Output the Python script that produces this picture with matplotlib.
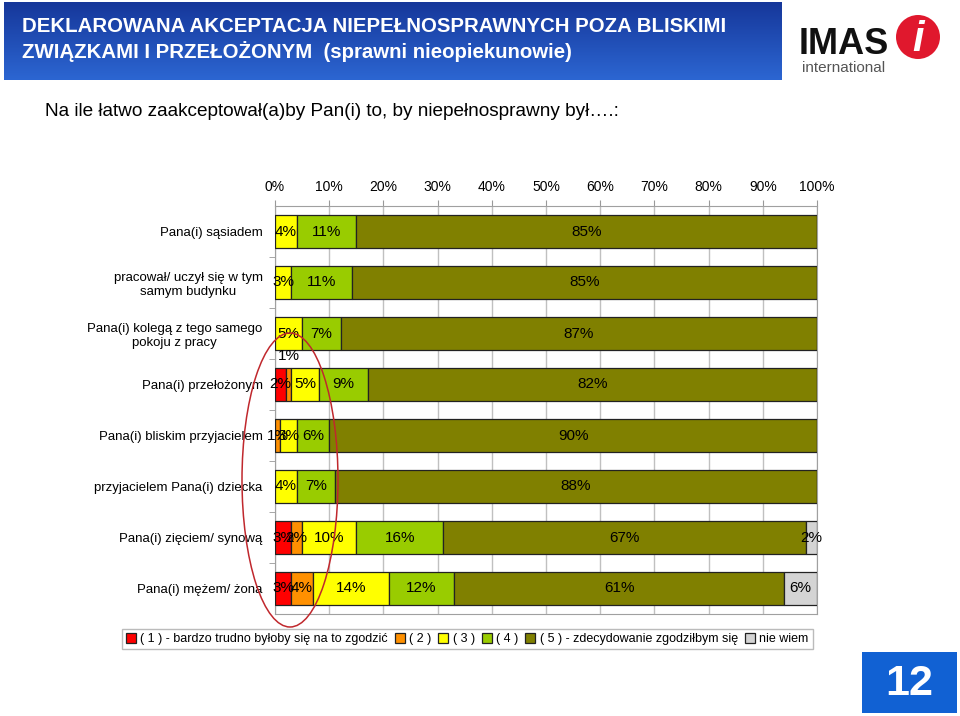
import numpy as np
import matplotlib
matplotlib.use('Agg')
import matplotlib.pyplot as plt
from matplotlib.patches import Ellipse, Rectangle
from matplotlib.colors import LinearSegmentedColormap

plt.rcParams['font.family'] = ['Liberation Sans', 'DejaVu Sans']

# data (percent of answers)
categories = [
    'Pana(i) sąsiadem',
    'pracował/ uczył się w tym\nsamym budynku',
    'Pana(i) kolegą z tego samego\npokoju z pracy',
    'Pana(i) przełożonym',
    'Pana(i) bliskim przyjacielem',
    'przyjacielem Pana(i) dziecka',
    'Pana(i) zięciem/ synową',
    'Pana(i) mężem/ żona',
]
ans1 = [0, 0, 0, 2, 0, 0, 3, 3]
ans2 = [0, 0, 0, 1, 1, 0, 2, 4]
ans3 = [4, 3, 5, 5, 3, 4, 10, 14]
ans4 = [11, 11, 7, 9, 6, 7, 16, 12]
ans5 = [85, 85, 87, 82, 90, 88, 67, 61]
ans_dk = [0, 0, 0, 0, 0, 0, 2, 6]

legend_labels = ['( 1 ) - bardzo trudno byłoby się na to zgodzić', '( 2 )', '( 3 )', '( 4 )',
                 '( 5 ) - zdecydowanie zgodziłbym się', 'nie wiem']
colors = ['#FF0000', '#FF9000', '#FFFF00', '#99CC00', '#808000', '#D4D4D4']

series = np.array([ans1, ans2, ans3, ans4, ans5, ans_dk], dtype=float)
totals = series.sum(axis=0)
shares = series / totals * 100   # 100% stacked, like the original

fig = plt.figure(figsize=(9.6, 7.16), dpi=100)

# header band
hax = fig.add_axes([4/960, 1 - 80/716, 778/960, 78/716])
grad = np.linspace(0, 1, 100).reshape(-1, 1)
cmap = LinearSegmentedColormap.from_list('hdr', ['#16379A', '#2C66D2'])
hax.imshow(grad, aspect='auto', cmap=cmap, extent=[0, 1, 0, 1])
hax.axis('off')
fig.text(22/960, 1 - 27/716, 'DEKLAROWANA AKCEPTACJA NIEPEŁNOSPRAWNYCH POZA BLISKIMI',
         weight='bold', size=14.7, color='white', va='center')
fig.text(22/960, 1 - 52/716, 'ZWIĄZKAMI I PRZEŁOŻONYM  (sprawni nieopiekunowie)',
         weight='bold', size=14.7, color='white', va='center')

# logo
fig.text(799/960, 1 - 45/716, 'IMAS', weight='bold', size=26, color='#111111', va='center')
fig.text(802/960, 1 - 68/716, 'international', size=11, color='#555555', va='center')
fig.add_artist(Ellipse((918/960, 1 - 37/716), 44/960, 44/716, transform=fig.transFigure,
                       facecolor='#E0182D', edgecolor='none'))
fig.text(918/960, 1 - 40/716, 'i', size=30, weight='bold', style='italic', color='white',
         ha='center', va='center')

fig.text(45/960, 1 - 112/716, 'Na ile łatwo zaakceptował(a)by Pan(i) to, by niepełnosprawny był….:',
         size=13.7, color='black', va='center')

# chart
ax = fig.add_axes([275/960, 1 - 614/716, 542/960, 408/716])
y = np.arange(len(categories))
left = np.zeros(len(categories))
for k in range(len(series)):
    ax.barh(y, shares[k], left=left, height=0.63, color=colors[k], edgecolor='#222222',
            linewidth=0.9, zorder=3, label=legend_labels[k])
    for i in range(len(categories)):
        if series[k, i] > 0:
            yy = y[i]
            if k == 1 and i == 3:
                yy = y[i] - 0.55   # label moved above the bar in the original
            ax.text(left[i] + shares[k, i] / 2, yy, f'{int(series[k, i])}%',
                    ha='center', va='center', size=11, zorder=5)
    left += shares[k]

ax.set_xlim(0, 100)
ax.set_ylim(7.5, -0.5)
ax.set_xticks(np.arange(0, 101, 10))
ax.set_xticklabels([f'{v}%' for v in range(0, 101, 10)], size=10)
ax.xaxis.tick_top()
ax.tick_params(axis='x', length=4, color='#999999', pad=4.7)
ax.set_yticks(y)
ax.set_yticklabels(categories, size=9.5, multialignment='center')
ax.tick_params(axis='y', length=0, pad=9)
ax.set_yticks(np.arange(0.5, 7.5, 1), minor=True)
ax.tick_params(axis='y', which='minor', length=4, color='#999999')
ax.grid(axis='x', color='#C0C0C0', linewidth=1, zorder=0)
for s in ax.spines.values():
    s.set_color('#A0A0A0')

# legend
fig.legend(*ax.get_legend_handles_labels(), loc='center', bbox_to_anchor=(467/960, 1 - 639/716),
           ncol=6, fontsize=9, frameon=True, fancybox=False, edgecolor='#AAAAAA',
           handlelength=0.8, handleheight=0.8, handletextpad=0.35, columnspacing=0.55,
           borderpad=0.35, borderaxespad=0)

# hand-drawn marker
fig.add_artist(Ellipse((290/960, 1 - 480/716), 96/960, 294/716, transform=fig.transFigure,
                       facecolor='none', edgecolor='#C0282D', linewidth=1.1, zorder=10))

# page number box
fig.add_artist(Rectangle((862/960, 1 - 713/716), 95/960, 61/716, transform=fig.transFigure,
                         facecolor='#1161D3', edgecolor='none'))
fig.text(909/960, 1 - 684/716, '12', size=31, weight='bold', color='white',
         ha='center', va='center')

fig.savefig('out.png', dpi=100)
